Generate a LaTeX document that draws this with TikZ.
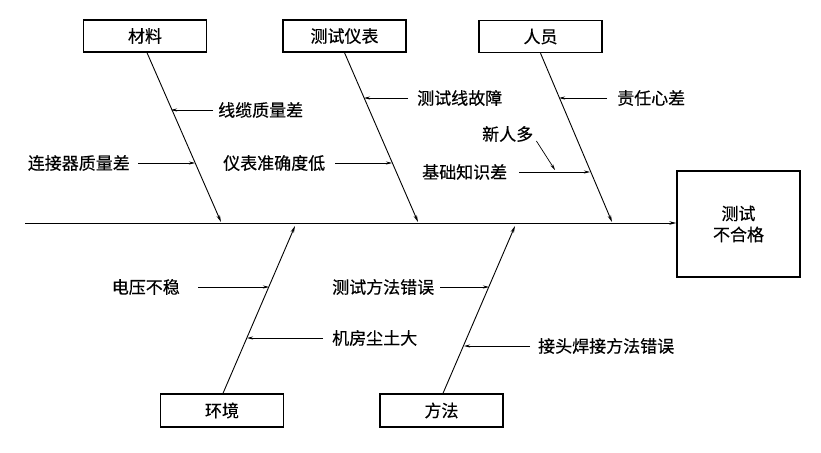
\documentclass[tikz,border=0pt]{standalone}
\usepackage{fontspec}
\newfontfamily\cjk[FakeBold=0.4]{Noto Sans CJK SC}
\usetikzlibrary{arrows.meta,calc}
\begin{document}
\begin{tikzpicture}[x=1pt,y=-1pt,
  box/.style={draw,line width=1.4pt,minimum height=32pt,minimum width=123pt,inner sep=0pt,font=\cjk\fontsize{17}{20}\selectfont},
  lbl/.style={inner sep=0pt,font=\cjk\fontsize{17}{20}\selectfont},
  bone/.style={line width=0.9pt,-{Stealth[length=7pt,width=3.5pt]}},
  sub/.style={line width=0.7pt,-{Stealth[length=6pt,width=3pt]}}]
\useasboundingbox (0,0) rectangle (821,452);
% category boxes
\node[box] (cl) at (145,36) {材料};
\node[box] (ci) at (344.5,36) {测试仪表};
\node[box] (cp) at (540.5,36.5) {人员};
\node[box,minimum height=33pt] (ce) at (222,410.5) {环境};
\node[box,minimum height=33pt] (cm) at (441.5,410.5) {方法};
\node[box,minimum width=123pt,minimum height=106pt,align=center,font=\cjk\fontsize{17}{21}\selectfont] (eff) at (738.5,224) {测试\\不合格};
% spine
\coordinate (s0) at (25,223);
\draw[bone] (s0) -- (s0 -| eff.west);
% bone ends
\coordinate (b1) at (221,222);
\coordinate (b2) at (418,222);
\coordinate (b3) at (612,222);
\coordinate (b4) at (295,226);
\coordinate (b5) at (515,226);
\draw[bone] ([xshift=2pt]cl.south) -- (b1);
\draw[bone] (ci.south) -- (b2);
\draw[bone] (cp.south) -- (b3);
\draw[bone] ([xshift=1pt]ce.north) -- (b4);
\draw[bone] ([xshift=1.5pt]cm.north) -- (b5);
% sub causes
\node[lbl,anchor=west] (t1) at (218,110) {线缆质量差};
\coordinate (p1) at (171,110);
\draw[sub] ([xshift=-5pt]t1.west) -- (p1);
\node[lbl,anchor=east] (t2) at (130,163) {连接器质量差};
\coordinate (p2) at (195,163);
\draw[sub] ([xshift=8pt]t2.east) -- (p2);
\node[lbl,anchor=west] (t3) at (223,163) {仪表准确度低};
\coordinate (p3) at (392,163);
\draw[sub] ([xshift=10pt]t3.east) -- (p3);
\node[lbl,anchor=west] (t4) at (417,98) {测试线故障};
\coordinate (p4) at (364,98);
\draw[sub] ([xshift=-9pt]t4.west) -- (p4);
\node[lbl,anchor=west] (t5) at (617,98) {责任心差};
\coordinate (p5) at (559,98);
\draw[sub] ([xshift=-10pt]t5.west) -- (p5);
\node[lbl,anchor=west] (t7) at (422,172) {基础知识差};
\coordinate (p7) at (590,172);
\draw[sub] ([xshift=12pt]t7.east) -- (p7);
\node[lbl,anchor=west] (t6) at (482,134) {新人多};
\coordinate (p6) at (555,170);
\draw[sub] ([xshift=3pt,yshift=-7pt]t6.east) -- (p6);
\node[lbl,anchor=east] (t8) at (180,287) {电压不稳};
\coordinate (p8) at (269,287);
\draw[sub] ([xshift=18pt]t8.east) -- (p8);
\node[lbl,anchor=west] (t9) at (332,338) {机房尘土大};
\coordinate (p9) at (247,338);
\draw[sub] ([xshift=-9pt]t9.west) -- (p9);
\node[lbl,anchor=west] (t10) at (332,287) {测试方法错误};
\coordinate (p10) at (489,287);
\draw[sub] ([xshift=6pt]t10.east) -- (p10);
\node[lbl,anchor=west] (t11) at (538,346) {接头焊接方法错误};
\coordinate (p11) at (464,346);
\draw[sub] ([xshift=-8pt]t11.west) -- (p11);
\end{tikzpicture}
\end{document}
